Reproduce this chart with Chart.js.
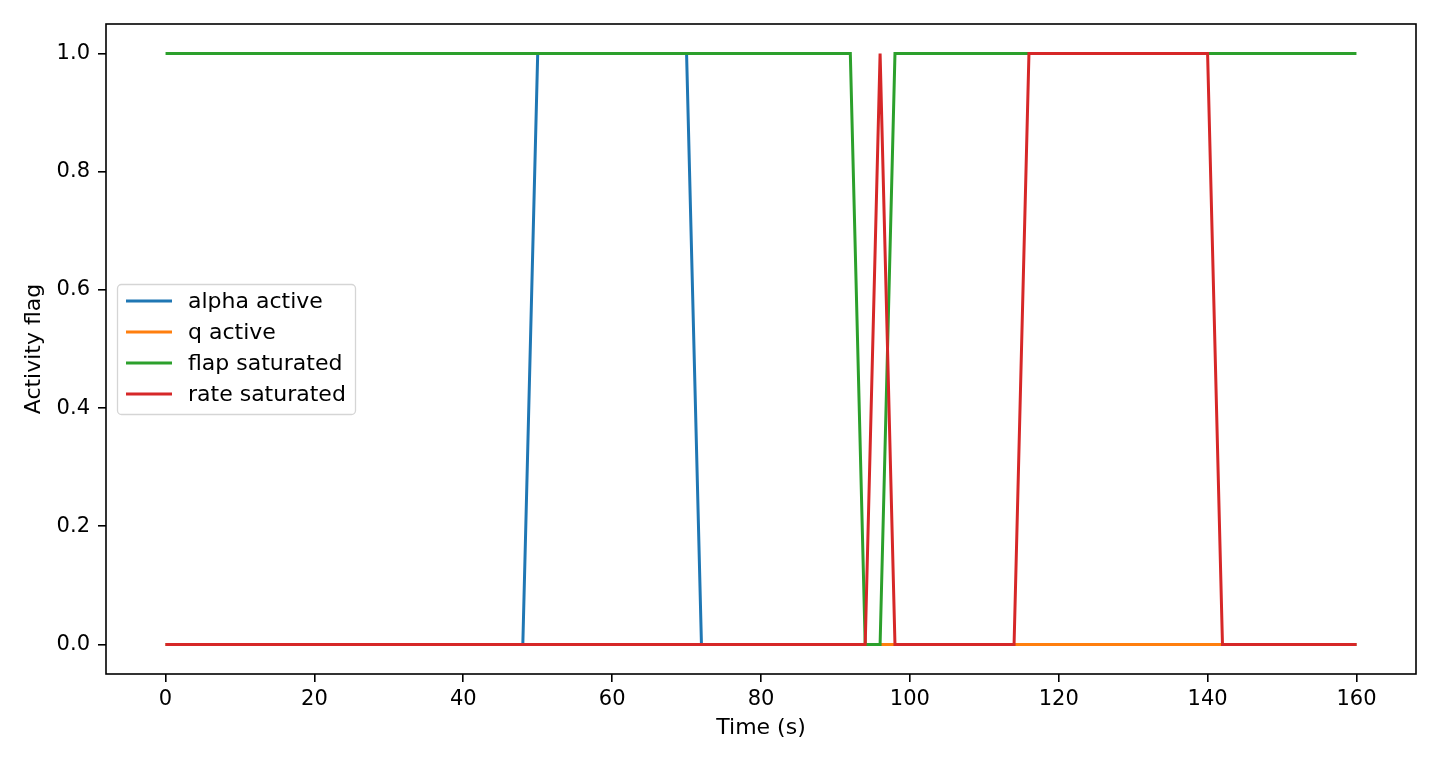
<!DOCTYPE html>
<html lang="en">
<head>
<meta charset="UTF-8">
<title>Activity flags</title>
<script src="https://cdn.jsdelivr.net/npm/chart.js"></script>
<style>
  html, body { margin: 0; padding: 0; background: #fff; }
  canvas { display: block; }
</style>
</head>
<body>
<canvas id="flagChart" width="1440" height="768"></canvas>
<script>
// sample times (s)
const times = [
    0,   2,   4,   6,   8,  10,  12,  14,  16,  18,
   20,  22,  24,  26,  28,  30,  32,  34,  36,  38,
   40,  42,  44,  46,  48,  50,  52,  54,  56,  58,
   60,  62,  64,  66,  68,  70,  72,  74,  76,  78,
   80,  82,  84,  86,  88,  90,  92,  94,  96,  98,
  100, 102, 104, 106, 108, 110, 112, 114, 116, 118,
  120, 122, 124, 126, 128, 130, 132, 134, 136, 138,
  140, 142, 144, 146, 148, 150, 152, 154, 156, 158,
  160
];

const alphaActive = [
  0, 0, 0, 0, 0, 0, 0, 0, 0, 0,
  0, 0, 0, 0, 0, 0, 0, 0, 0, 0,
  0, 0, 0, 0, 0, 1, 1, 1, 1, 1,
  1, 1, 1, 1, 1, 1, 0, 0, 0, 0,
  0, 0, 0, 0, 0, 0, 0, 0, 0, 0,
  0, 0, 0, 0, 0, 0, 0, 0, 0, 0,
  0, 0, 0, 0, 0, 0, 0, 0, 0, 0,
  0, 0, 0, 0, 0, 0, 0, 0, 0, 0,
  0
];

const qActive = [
  0, 0, 0, 0, 0, 0, 0, 0, 0, 0,
  0, 0, 0, 0, 0, 0, 0, 0, 0, 0,
  0, 0, 0, 0, 0, 0, 0, 0, 0, 0,
  0, 0, 0, 0, 0, 0, 0, 0, 0, 0,
  0, 0, 0, 0, 0, 0, 0, 0, 0, 0,
  0, 0, 0, 0, 0, 0, 0, 0, 0, 0,
  0, 0, 0, 0, 0, 0, 0, 0, 0, 0,
  0, 0, 0, 0, 0, 0, 0, 0, 0, 0,
  0
];

const flapSaturated = [
  1, 1, 1, 1, 1, 1, 1, 1, 1, 1,
  1, 1, 1, 1, 1, 1, 1, 1, 1, 1,
  1, 1, 1, 1, 1, 1, 1, 1, 1, 1,
  1, 1, 1, 1, 1, 1, 1, 1, 1, 1,
  1, 1, 1, 1, 1, 1, 1, 0, 0, 1,
  1, 1, 1, 1, 1, 1, 1, 1, 1, 1,
  1, 1, 1, 1, 1, 1, 1, 1, 1, 1,
  1, 1, 1, 1, 1, 1, 1, 1, 1, 1,
  1
];

const rateSaturated = [
  0, 0, 0, 0, 0, 0, 0, 0, 0, 0,
  0, 0, 0, 0, 0, 0, 0, 0, 0, 0,
  0, 0, 0, 0, 0, 0, 0, 0, 0, 0,
  0, 0, 0, 0, 0, 0, 0, 0, 0, 0,
  0, 0, 0, 0, 0, 0, 0, 0, 1, 0,
  0, 0, 0, 0, 0, 0, 0, 0, 1, 1,
  1, 1, 1, 1, 1, 1, 1, 1, 1, 1,
  1, 0, 0, 0, 0, 0, 0, 0, 0, 0,
  0
];

const seriesNames = ["alpha active", "q active", "flap saturated", "rate saturated"];
const seriesColors = ["#1f77b4", "#ff7f0e", "#2ca02c", "#d62728"];
const xTickValues = [0, 20, 40, 60, 80, 100, 120, 140, 160];
const yTickValues = [0, 0.2, 0.4, 0.6, 0.8, 1.0];

const FONT = "'DejaVu Sans', sans-serif";

function toPoints(values) {
    return times.map((t, i) => ({ x: t, y: values[i] }));
}

// frame around the plot + matplotlib style legend box
const framePlugin = {
    id: "frame",
    afterDraw(chart) {
        const ctx = chart.ctx;
        const a = chart.chartArea;
        ctx.save();
        ctx.strokeStyle = "#000";
        ctx.lineWidth = 1.6;
        ctx.strokeRect(a.left, a.top, a.right - a.left, a.bottom - a.top);

        // legend
        const bx = 117.5, by = 284.5, bw = 238, bh = 130, r = 4;
        ctx.beginPath();
        ctx.moveTo(bx + r, by);
        ctx.arcTo(bx + bw, by, bx + bw, by + bh, r);
        ctx.arcTo(bx + bw, by + bh, bx, by + bh, r);
        ctx.arcTo(bx, by + bh, bx, by, r);
        ctx.arcTo(bx, by, bx + bw, by, r);
        ctx.closePath();
        ctx.fillStyle = "rgba(255,255,255,0.8)";
        ctx.fill();
        ctx.strokeStyle = "#d5d5d5";
        ctx.lineWidth = 1.3;
        ctx.stroke();

        const rows = [301, 332, 363, 394];
        ctx.font = "22px " + FONT;
        ctx.textBaseline = "middle";
        ctx.textAlign = "left";
        seriesNames.forEach((name, i) => {
            ctx.strokeStyle = seriesColors[i];
            ctx.lineWidth = 3;
            ctx.beginPath();
            ctx.moveTo(126, rows[i]);
            ctx.lineTo(172, rows[i]);
            ctx.stroke();
            ctx.fillStyle = "#000";
            ctx.fillText(name, 188, rows[i] + 1);
        });
        ctx.restore();
    }
};

const allValues = [alphaActive, qActive, flapSaturated, rateSaturated];

const ctx = document.getElementById("flagChart").getContext("2d");
new Chart(ctx, {
    type: "line",
    data: {
        datasets: seriesNames.map((name, i) => ({
            label: name,
            data: toPoints(allValues[i]),
            borderColor: seriesColors[i],
            backgroundColor: seriesColors[i],
            borderWidth: 3,
            pointRadius: 0,
            tension: 0,
            fill: false,
            order: seriesNames.length - i
        }))
    },
    options: {
        responsive: false,
        animation: false,
        layout: { padding: { top: 24, right: 24, left: 0, bottom: 0 } },
        plugins: {
            legend: { display: false },
            tooltip: { enabled: false }
        },
        scales: {
            x: {
                type: "linear",
                min: -8,
                max: 168,
                afterBuildTicks: scale => { scale.ticks = xTickValues.map(v => ({ value: v })); },
                afterFit: scale => { scale.height = 94; },
                grid: { drawOnChartArea: false, tickLength: 8, tickColor: "#000", lineWidth: 1.6 },
                border: { display: false },
                ticks: {
                    color: "#000",
                    font: { family: FONT, size: 21 },
                    padding: 5,
                    maxRotation: 0,
                    callback: v => String(v)
                },
                title: {
                    display: true,
                    text: "Time (s)",
                    color: "#000",
                    font: { family: FONT, size: 22 },
                    padding: { top: 0, bottom: 27 }
                }
            },
            y: {
                type: "linear",
                min: -0.05,
                max: 1.05,
                afterBuildTicks: scale => { scale.ticks = yTickValues.map(v => ({ value: v })); },
                afterFit: scale => { scale.width = 106; },
                grid: { drawOnChartArea: false, tickLength: 8, tickColor: "#000", lineWidth: 1.6 },
                border: { display: false },
                ticks: {
                    color: "#000",
                    font: { family: FONT, size: 21 },
                    padding: 8,
                    callback: v => v.toFixed(1)
                },
                title: {
                    display: true,
                    text: "Activity flag",
                    color: "#000",
                    font: { family: FONT, size: 22 },
                    padding: { top: 21, bottom: 0 }
                }
            }
        }
    },
    plugins: [framePlugin]
});
</script>
</body>
</html>
